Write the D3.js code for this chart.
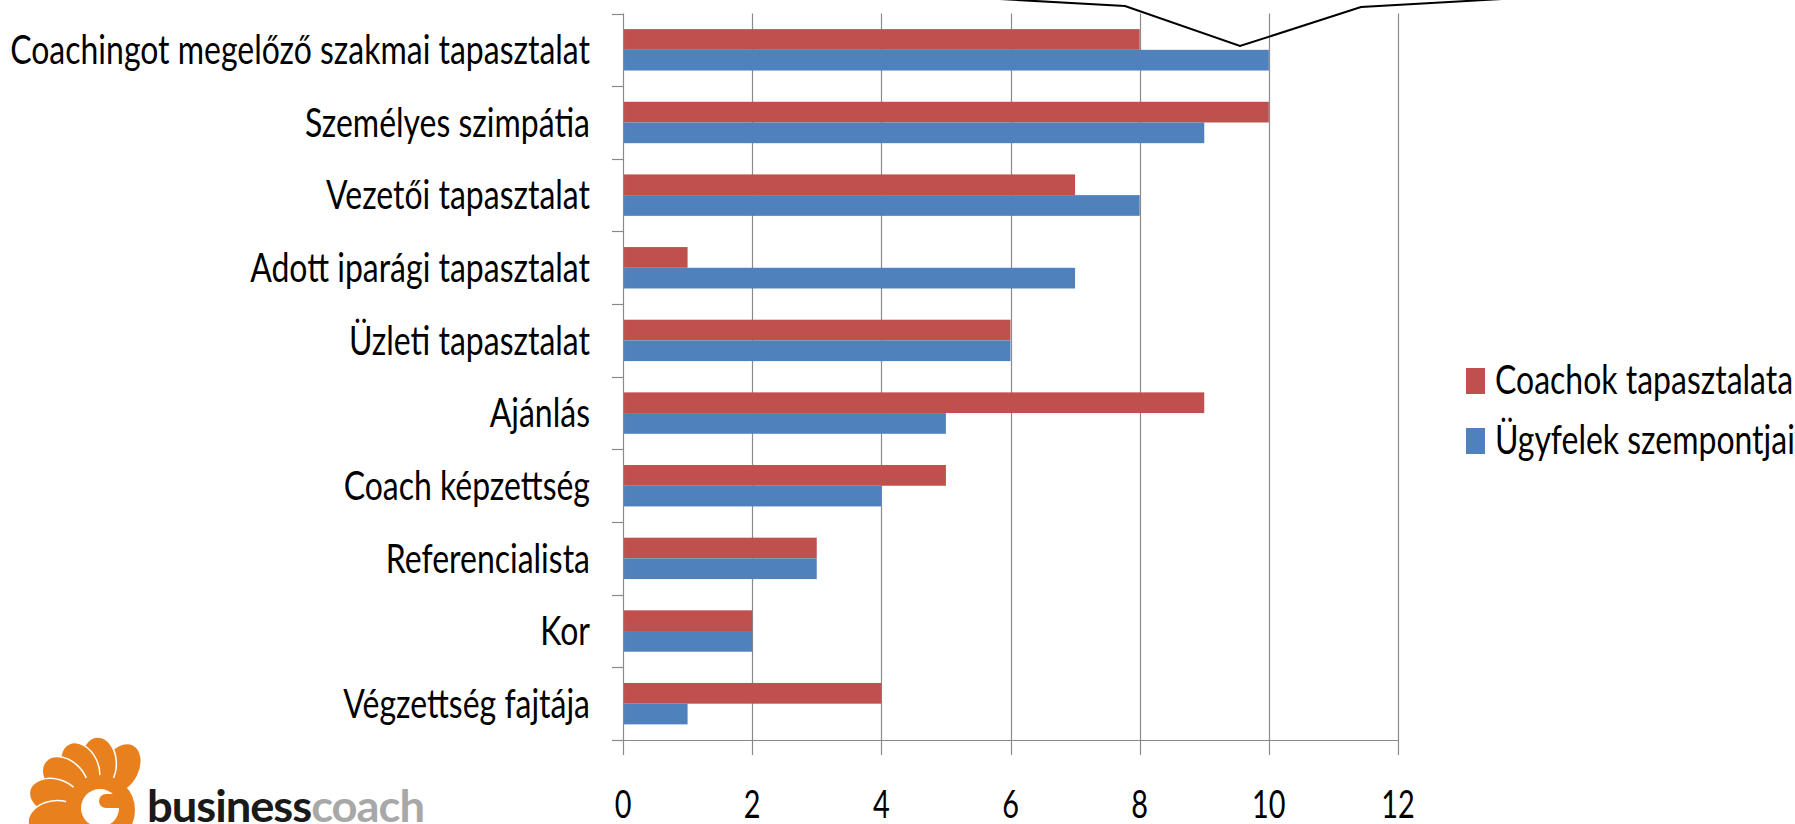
<!DOCTYPE html>
<html>
<head>
<meta charset="utf-8">
<script src="https://cdn.jsdelivr.net/npm/d3@7"></script>
<style>
  html, body { margin: 0; padding: 0; background: #fff; }
  svg { display: block; }
  text { font-family: Lato, "Open Sans", sans-serif; }
</style>
</head>
<body>
<svg id="chart" width="1795" height="824"></svg>
<script>
// ---- data ----
const categories = [
  "Coachingot megelőző szakmai tapasztalat",
  "Személyes szimpátia",
  "Vezetői tapasztalat",
  "Adott iparági tapasztalat",
  "Üzleti tapasztalat",
  "Ajánlás",
  "Coach képzettség",
  "Referencialista",
  "Kor",
  "Végzettség fajtája"
];
const coachValues  = [8, 10, 7, 1, 6, 9, 5, 3, 2, 4];   // Coachok tapasztalata
const clientValues = [10, 9, 8, 7, 6, 5, 4, 3, 2, 1];   // Ügyfelek szempontjai
const seriesNames  = ["Coachok tapasztalata", "Ügyfelek szempontjai"];
const seriesColors = ["#C0504D", "#4F81BD"];
const xTicks = [0, 2, 4, 6, 8, 10, 12];

// ---- layout ----
const svg = d3.select("#chart");
const plot = { left: 623, right: 1398, top: 13.5, bottom: 740 };
const fontSize = 40;
const capH = 28.5;
const axisColor = "#8a8a8a";

const x = d3.scaleLinear().domain([0, 12]).range([plot.left, plot.right]);
const y = d3.scaleBand().domain(categories).range([plot.top, plot.bottom])
  .paddingInner(0.43).paddingOuter(0.215);
const ySub = d3.scaleBand().domain(seriesNames).range([0, y.bandwidth()]);

// gridlines (vertical) incl. tick extensions below the axis
svg.append("g").selectAll("line").data(xTicks.slice(1)).join("line")
  .attr("x1", d => Math.round(x(d)) + 0.5).attr("x2", d => Math.round(x(d)) + 0.5)
  .attr("y1", plot.top).attr("y2", plot.bottom + 15)
  .attr("stroke", axisColor).attr("stroke-width", 1.2);

// bars
const rows = categories.map((c, i) => ({ c, vals: [coachValues[i], clientValues[i]] }));
const gBars = svg.append("g");
rows.forEach(r => {
  r.vals.forEach((v, j) => {
    gBars.append("rect")
      .attr("x", x(0))
      .attr("y", y(r.c) + ySub(seriesNames[j]))
      .attr("width", x(v) - x(0))
      .attr("height", ySub.bandwidth())
      .attr("fill", seriesColors[j]);
  });
});

// y axis line and ticks
svg.append("line")
  .attr("x1", plot.left + 0.5).attr("x2", plot.left + 0.5)
  .attr("y1", plot.top).attr("y2", plot.bottom + 15)
  .attr("stroke", axisColor).attr("stroke-width", 1.2);
const boundaries = d3.range(categories.length + 1).map(i => plot.top + i * y.step());
svg.append("g").selectAll("line").data(boundaries).join("line")
  .attr("x1", plot.left - 11).attr("x2", plot.left)
  .attr("y1", d => Math.round(d) + 0.5).attr("y2", d => Math.round(d) + 0.5)
  .attr("stroke", axisColor).attr("stroke-width", 1.2);
// x axis line
svg.append("line")
  .attr("x1", plot.left - 11).attr("x2", plot.right)
  .attr("y1", plot.bottom + 0.5).attr("y2", plot.bottom + 0.5)
  .attr("stroke", axisColor).attr("stroke-width", 1.2);

// category labels, horizontally condensed like the original
const labels = svg.append("g").selectAll("text").data(categories).join("text")
  .attr("text-anchor", "end")
  .attr("font-size", fontSize)
  .attr("fill", "#000")
  .text(d => d);
const maxW = d3.max(labels.nodes(), n => n.getComputedTextLength());
const sx = 580 / maxW;
labels.attr("transform", d => `translate(590, ${y(d) + y.bandwidth() / 2 + capH / 2}) scale(${sx},1)`);

// x tick labels
svg.append("g").selectAll("text").data(xTicks).join("text")
  .attr("text-anchor", "middle")
  .attr("font-size", fontSize - 2)
  .attr("transform", d => `translate(${x(d)}, 818) scale(${sx * 0.95},1)`)
  .text(d => d);

// legend
const legend = svg.append("g");
seriesNames.forEach((name, j) => {
  const ly = 368 + j * 60;
  legend.append("rect").attr("x", 1466).attr("y", ly).attr("width", 19).attr("height", 26)
    .attr("fill", seriesColors[j]);
  legend.append("text").attr("font-size", fontSize)
    .attr("transform", `translate(1495, ${ly + 26}) scale(${sx},1)`)
    .text(name);
});

// callout bubble edge at the top
svg.append("path")
  .attr("d", d3.line()([[1000, -1], [1125, 6], [1240, 46], [1361, 7], [1502, -1]]))
  .attr("fill", "none").attr("stroke", "#000").attr("stroke-width", 2);

// logo
const logo = svg.append("g");
const orange = "#E8801E";
const cx = 100, cy = 810;
[27, -2, -25, -48, -74, -101].forEach(a => {
  const r = a * Math.PI / 180;
  const px = cx + 47 * Math.sin(r), py = cy - 47 * Math.cos(r);
  logo.append("ellipse").attr("cx", px).attr("cy", py).attr("rx", 18).attr("ry", 26)
    .attr("transform", `rotate(${a},${px},${py})`).attr("fill", orange)
    .attr("stroke", "#fff").attr("stroke-width", 1.5);
});
logo.append("circle").attr("cx", cx).attr("cy", cy).attr("r", 35).attr("fill", orange);
logo.append("circle").attr("cx", 100).attr("cy", 808).attr("r", 19).attr("fill", "#fff");
logo.append("circle").attr("cx", 106).attr("cy", 801).attr("r", 7).attr("fill", orange);
logo.append("rect").attr("x", 106).attr("y", 794).attr("width", 20).attr("height", 14).attr("fill", orange);

const brand = logo.append("text")
  .attr("font-family", "'Liberation Sans', Arial, sans-serif")
  .attr("font-weight", "bold").attr("font-size", 44)
  .attr("letter-spacing", -1);
brand.append("tspan").attr("fill", "#1a1a1a").text("business");
brand.append("tspan").attr("fill", "#A8A8A8").text("coach");
const bw = brand.node().getComputedTextLength();
brand.attr("transform", `translate(147, 822) scale(${277 / bw},1)`);
</script>
</body>
</html>
